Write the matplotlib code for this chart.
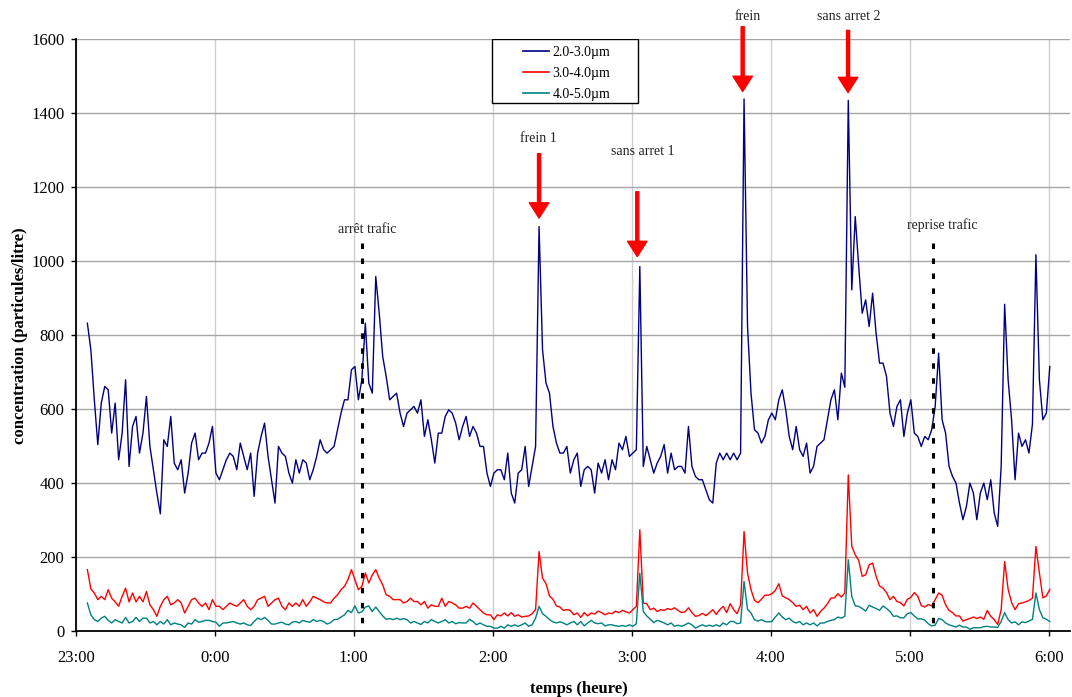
import numpy as np
import matplotlib.pyplot as plt
from matplotlib.patches import Rectangle

plt.rcParams['font.family'] = ['Liberation Serif', 'DejaVu Serif']

# minutes after 23:00, one reading every 1.5 min starting at 23:05
t_start = 5.0
t_step = 1.5

# particle concentration (particules/litre)
pm_2_3 = [
    # 23:05 - 0:48
    833, 761, 626, 505, 617, 662, 653, 536, 617, 464,
    536, 680, 446, 554, 581, 482, 536, 635, 500, 437,
    374, 318, 518, 500, 581, 455, 437, 464, 374, 428,
    509, 536, 464, 482, 482, 509, 554, 428, 410, 437,
    464, 482, 473, 437, 509, 473, 437, 482, 365, 482,
    527, 563, 473, 410, 347, 500, 482, 473, 428, 401,
    464, 428, 464, 455, 410, 437, 473, 518, 491, 482,
    # 0:50 - 2:33
    491, 500, 545, 590, 626, 626, 707, 716, 626, 680,
    833, 671, 644, 959, 860, 743, 689, 626, 635, 644,
    590, 554, 590, 599, 608, 590, 626, 527, 572, 518,
    455, 536, 536, 581, 599, 590, 563, 518, 554, 581,
    527, 554, 536, 500, 500, 428, 392, 428, 437, 437,
    410, 482, 374, 347, 428, 437, 500, 392, 446, 500,
    1094, 761, 671, 644, 554, 509, 482, 482, 500, 428,
    # 2:35 - 4:20
    464, 482, 392, 437, 446, 437, 374, 455, 428, 464,
    410, 464, 437, 509, 491, 527, 473, 482, 491, 986,
    446, 500, 464, 428, 455, 473, 505, 428, 482, 437,
    446, 446, 428, 554, 446, 419, 410, 410, 383, 356,
    347, 455, 482, 464, 482, 464, 482, 464, 482, 1439,
    824, 644, 545, 536, 509, 527, 572, 590, 572, 626,
    653, 599, 527, 491, 554, 491, 473, 509, 428, 446,
    500,
    # 4:21 - 6:00
    509, 518, 572, 626, 653, 572, 698, 660, 1435, 923,
    1121, 986, 860, 896, 824, 914, 806, 725, 725, 689,
    590, 554, 608, 626, 527, 590, 626, 536, 527, 500,
    527, 518, 545, 608, 752, 572, 536, 446, 419, 401,
    347, 302, 338, 401, 374, 302, 374, 401, 356, 410,
    320, 284, 446, 884, 680, 572, 410, 536, 500, 518,
    482, 560, 1018, 680, 572, 590, 716,
]

pm_3_4 = [
    167, 115, 104, 86, 95, 86, 113, 90, 80, 68,
    95, 117, 80, 104, 80, 95, 80, 108, 72, 59,
    41, 68, 86, 95, 72, 77, 86, 77, 50, 68,
    86, 90, 77, 68, 77, 59, 86, 68, 68, 59,
    68, 77, 72, 68, 77, 86, 68, 59, 68, 86,
    90, 95, 68, 77, 86, 90, 68, 59, 77, 68,
    77, 68, 86, 68, 80, 95, 90, 86, 80, 77,
    77, 90, 99, 113, 122, 140, 167, 140, 113, 122,
    158, 131, 153, 167, 144, 126, 99, 95, 86, 86,
    86, 77, 81, 90, 81, 81, 72, 81, 63, 72,
    68, 68, 90, 68, 81, 77, 72, 63, 63, 68,
    63, 77, 68, 59, 50, 45, 45, 32, 45, 42,
    50, 42, 51, 41, 45, 39, 41, 42, 48, 59,
    216, 144, 129, 96, 87, 69, 66, 57, 59, 57,
    45, 50, 38, 51, 42, 50, 47, 55, 51, 45,
    50, 48, 55, 51, 57, 53, 50, 59, 68, 275,
    77, 75, 59, 63, 54, 59, 57, 62, 59, 64,
    57, 51, 53, 64, 51, 41, 43, 49, 43, 50,
    59, 46, 59, 68, 51, 75, 59, 48, 72, 270,
    158, 113, 84, 78, 87, 98, 98, 102, 111, 129,
    96, 91, 86, 78, 68, 71, 59, 68, 50, 59,
    41,
    54, 63, 75, 90, 91, 102, 93, 104, 423, 230,
    207, 192, 149, 153, 180, 185, 149, 123, 117, 105,
    86, 95, 81, 78, 69, 87, 92, 105, 95, 70,
    66, 73, 69, 86, 104, 98, 72, 57, 51, 42,
    42, 28, 32, 35, 39, 35, 39, 33, 57, 41,
    32, 19, 59, 189, 114, 78, 59, 75, 77, 80,
    84, 90, 230, 158, 91, 96, 114,
]

pm_4_5 = [
    77, 45, 32, 27, 36, 41, 30, 23, 32, 27,
    23, 38, 23, 27, 38, 27, 36, 36, 23, 27,
    18, 27, 20, 32, 18, 23, 20, 18, 11, 23,
    20, 32, 25, 27, 30, 30, 27, 25, 14, 23,
    23, 25, 27, 23, 20, 23, 18, 16, 27, 36,
    32, 38, 30, 20, 20, 23, 25, 20, 18, 25,
    27, 23, 30, 27, 25, 32, 27, 30, 27, 20,
    24, 32, 33, 39, 45, 57, 51, 69, 50, 53,
    66, 69, 54, 66, 54, 42, 33, 35, 32, 36,
    32, 35, 32, 23, 27, 23, 19, 27, 23, 32,
    27, 23, 27, 32, 23, 27, 21, 24, 23, 23,
    33, 27, 18, 23, 18, 14, 14, 9, 9, 14,
    9, 18, 14, 18, 14, 18, 23, 14, 18, 36,
    68, 48, 41, 32, 26, 23, 26, 23, 18, 23,
    27, 18, 27, 15, 23, 30, 23, 21, 23, 15,
    18, 18, 15, 14, 16, 14, 18, 14, 21, 158,
    54, 42, 33, 24, 30, 27, 23, 18, 23, 14,
    17, 14, 18, 23, 18, 9, 14, 18, 14, 17,
    14, 18, 14, 23, 18, 27, 27, 21, 23, 135,
    60, 50, 32, 28, 32, 27, 26, 27, 39, 50,
    39, 32, 36, 27, 23, 27, 18, 23, 18, 23,
    15,
    23, 23, 27, 30, 32, 39, 36, 41, 194, 95,
    69, 68, 62, 55, 71, 66, 62, 57, 69, 62,
    54, 41, 42, 37, 37, 48, 51, 42, 34, 34,
    31, 21, 15, 17, 35, 32, 23, 18, 15, 12,
    17, 12, 12, 6, 10, 10, 10, 13, 14, 12,
    12, 11, 27, 51, 32, 23, 26, 18, 26, 24,
    28, 33, 104, 59, 37, 33, 27,
]

series_labels = ['2.0-3.0µm', '3.0-4.0µm', '4.0-5.0µm']
series_colors = ['#000080', '#ff0000', '#008080']

hour_ticks = [0, 60, 120, 180, 240, 300, 360, 420]
hour_labels = ['23:00', '0:00', '1:00', '2:00', '3:00', '4:00', '5:00', '6:00']

# traffic events (dotted lines) and red-arrow events
traffic_events = [('arrêt trafic', 123.7, 125.7, 1085), ('reprise trafic', 370.2, 374.2, 1099)]
traffic_line_top = 1049
arrow_events = [
    # label, x, tail, tip, text x, text y
    ('frein 1', 200.0, 1291, 1117, 199.5, 1331),
    ('sans arret 1', 242.4, 1188, 1013, 244.9, 1297),
    ('frein', 287.9, 1634, 1459, 290.1, 1662),
    ('sans arret 2', 333.4, 1624, 1456, 333.9, 1662),
]

fig = plt.figure(figsize=(10.72, 6.97), dpi=100)
ax = fig.add_axes([0.0707, 0.094, 0.9274, 0.8496])

for vals, lab, col in zip([pm_2_3, pm_3_4, pm_4_5], series_labels, series_colors):
    t = t_start + t_step * np.arange(len(vals))
    ax.plot(t, vals, color=col, lw=1.0, label=lab, zorder=3)

ax.set_xlim(0, 429.2)
ax.set_ylim(0, 1600)
ax.set_xticks(hour_ticks, hour_labels)
ax.set_yticks(range(0, 1601, 200))
ax.grid(axis='y', color='#a6a6a6', lw=1.0)
ax.grid(axis='x', color='#cfcfcf', lw=1.0)
ax.set_axisbelow(True)
for s in ['top', 'right']:
    ax.spines[s].set_visible(False)
for s in ['left', 'bottom']:
    ax.spines[s].set_linewidth(1.3)
ax.tick_params(axis='both', direction='out', length=3.6, width=1, labelsize=12)
ax.tick_params(axis='x', pad=10)
ax.tick_params(axis='y', pad=4.7)

ax.set_xlabel('temps (heure)', fontsize=12, fontweight='bold')
ax.xaxis.set_label_coords(0.5056, -0.083)
ax.set_ylabel('concentration (particules/litre)', fontsize=12, fontweight='bold')
ax.yaxis.set_label_coords(-0.048, 0.5)

# dotted traffic markers
for lab, x, tx, ty in traffic_events:
    ax.plot([x, x], [traffic_line_top, 0], color='black', lw=2.2,
            ls=(0, (1.8, 3.1)), zorder=4)
    ax.text(tx, ty, lab, ha='center', va='center', fontsize=10, color='#222222')

# red arrows
for lab, x, tail, tip, tx, ty in arrow_events:
    ax.annotate('', xy=(x, tip), xytext=(x, tail), annotation_clip=False,
                arrowprops=dict(facecolor='#ff0000', edgecolor='#ff0000',
                                width=2.2, headwidth=14, headlength=11, shrink=0))
    ax.text(tx, ty, lab, ha='center', va='center', fontsize=10, color='#222222')

# legend box
box = Rectangle((0.4183, 0.893), 0.1475, 0.107, transform=ax.transAxes,
                facecolor='white', edgecolor='black', lw=1.0, zorder=5)
ax.add_patch(box)
leg = ax.legend(loc='upper left', bbox_to_anchor=(0.4495, 0.9895), frameon=False,
                borderpad=0, borderaxespad=0, handlelength=1.87, handletextpad=0.27,
                labelspacing=0.58, fontsize=10)
leg.set_zorder(6)
for ln in leg.get_lines():
    ln.set_linewidth(1.2)

fig.savefig('out.png', dpi=100)
plt.close(fig)
